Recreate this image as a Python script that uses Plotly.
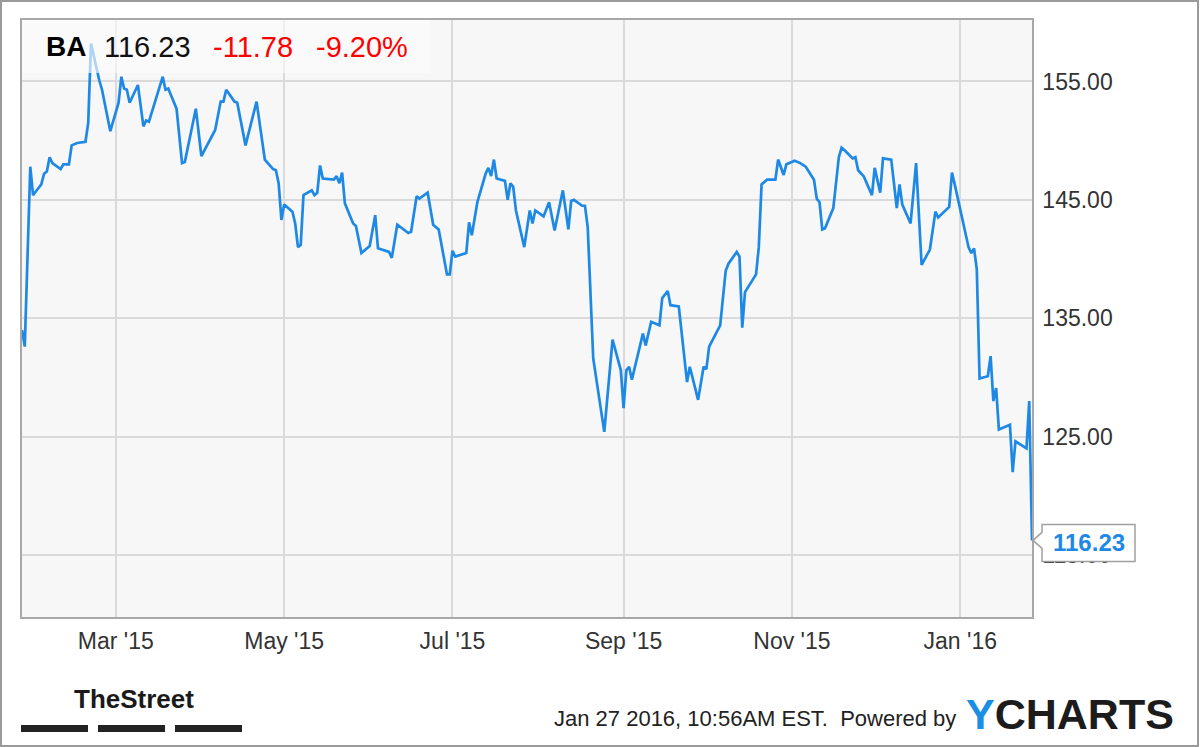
import plotly.graph_objects as go

# ---------------- data ----------------
ticker = "BA"
last_price = 116.23
change_abs = "-11.78"
change_pct = "-9.20%"
timestamp = "Jan 27 2016, 10:56AM EST.  Powered by"

dates = [
    "2015-01-26", "2015-01-27", "2015-01-29", "2015-01-30", "2015-01-31",
    "2015-02-02", "2015-02-03", "2015-02-04", "2015-02-05", "2015-02-06",
    "2015-02-09", "2015-02-10", "2015-02-12", "2015-02-13", "2015-02-15",
    "2015-02-18", "2015-02-19", "2015-02-20", "2015-02-23", "2015-02-24",
    "2015-02-27", "2015-03-02", "2015-03-03", "2015-03-04", "2015-03-05",
    "2015-03-06", "2015-03-09", "2015-03-11", "2015-03-12", "2015-03-13",
    "2015-03-18", "2015-03-19", "2015-03-20", "2015-03-23", "2015-03-25",
    "2015-03-26", "2015-03-30", "2015-04-01", "2015-04-06", "2015-04-08",
    "2015-04-09", "2015-04-10", "2015-04-13", "2015-04-14", "2015-04-17",
    "2015-04-21", "2015-04-24", "2015-04-27", "2015-04-28", "2015-04-29",
    "2015-04-30", "2015-05-01", "2015-05-04", "2015-05-05", "2015-05-06",
    "2015-05-07", "2015-05-08", "2015-05-11", "2015-05-12", "2015-05-13",
    "2015-05-14", "2015-05-15", "2015-05-19", "2015-05-20", "2015-05-21",
    "2015-05-22", "2015-05-23", "2015-05-26", "2015-05-27", "2015-05-29",
    "2015-06-01", "2015-06-03", "2015-06-04", "2015-06-08", "2015-06-09",
    "2015-06-11", "2015-06-15", "2015-06-16", "2015-06-18", "2015-06-19",
    "2015-06-22", "2015-06-24", "2015-06-26", "2015-06-29", "2015-06-30",
    "2015-07-01", "2015-07-02", "2015-07-06", "2015-07-07", "2015-07-08",
    "2015-07-10", "2015-07-13", "2015-07-14", "2015-07-15", "2015-07-16",
    "2015-07-17", "2015-07-20", "2015-07-21", "2015-07-22", "2015-07-23",
    "2015-07-24", "2015-07-27", "2015-07-29", "2015-07-30", "2015-07-31",
    "2015-08-03", "2015-08-05", "2015-08-07", "2015-08-10", "2015-08-12",
    "2015-08-13", "2015-08-14", "2015-08-17", "2015-08-18", "2015-08-19",
    "2015-08-21", "2015-08-25", "2015-08-28", "2015-08-31", "2015-09-01",
    "2015-09-02", "2015-09-03", "2015-09-04", "2015-09-08", "2015-09-09",
    "2015-09-11", "2015-09-14", "2015-09-15", "2015-09-17", "2015-09-18",
    "2015-09-21", "2015-09-24", "2015-09-25", "2015-09-28", "2015-09-30",
    "2015-10-01", "2015-10-02", "2015-10-06", "2015-10-08", "2015-10-09",
    "2015-10-12", "2015-10-13", "2015-10-14", "2015-10-15", "2015-10-19",
    "2015-10-20", "2015-10-21", "2015-10-23", "2015-10-26", "2015-10-27",
    "2015-10-29", "2015-10-30", "2015-11-02", "2015-11-04", "2015-11-06",
    "2015-11-09", "2015-11-10", "2015-11-11", "2015-11-12", "2015-11-13",
    "2015-11-16", "2015-11-18", "2015-11-19", "2015-11-20", "2015-11-23",
    "2015-11-24", "2015-11-25", "2015-11-27", "2015-11-30", "2015-12-01",
    "2015-12-03", "2015-12-04", "2015-12-07", "2015-12-09", "2015-12-10",
    "2015-12-11", "2015-12-14", "2015-12-16", "2015-12-18", "2015-12-21",
    "2015-12-23", "2015-12-24", "2015-12-28", "2015-12-29", "2015-12-30",
    "2016-01-04", "2016-01-05", "2016-01-06", "2016-01-07", "2016-01-08",
    "2016-01-11", "2016-01-12", "2016-01-13", "2016-01-14", "2016-01-15",
    "2016-01-19", "2016-01-20", "2016-01-21", "2016-01-25", "2016-01-26",
    "2016-01-27",
]

prices = [
    134.0, 132.6, 147.8, 145.4, 145.7,
    146.3, 147.2, 147.4, 148.6, 148.1,
    147.6, 148.0, 148.0, 149.6, 149.8,
    149.9, 151.5, 158.2, 155.1, 154.3,
    150.8, 153.2, 155.4, 154.4, 154.3,
    153.2, 154.7, 151.2, 151.7, 151.6,
    155.4, 154.3, 154.4, 152.7, 148.1,
    148.2, 152.7, 148.7, 150.9, 153.3,
    153.3, 154.3, 153.3, 153.2, 149.6,
    153.3, 148.4, 147.6, 147.5, 146.4,
    143.3, 144.6, 144.0, 143.0, 141.0,
    141.2, 145.4, 145.8, 145.4, 145.6,
    147.9, 146.8, 146.7, 147.0, 146.4,
    147.3, 144.7, 143.0, 142.8, 140.5,
    141.1, 143.7, 140.9, 140.6, 140.1,
    142.9, 142.2, 142.3, 145.3, 145.1,
    145.6, 142.9, 142.5, 138.7, 138.7,
    140.7, 140.2, 140.5, 143.1, 142.0,
    144.8, 147.2, 147.7, 147.0, 148.4,
    146.8, 146.6, 145.0, 146.4, 146.1,
    144.1, 141.0, 144.1, 143.0, 144.1,
    143.6, 144.8, 142.4, 145.8, 142.5,
    144.9, 145.0, 144.5, 144.5, 142.7,
    131.6, 125.4, 133.2, 130.6, 127.4,
    130.6, 130.9, 129.8, 133.7, 132.7,
    134.7, 134.4, 136.7, 137.3, 136.1,
    136.0, 129.6, 130.9, 128.1, 130.9,
    130.7, 132.6, 134.4, 139.0, 139.6,
    140.6, 140.2, 134.2, 137.2, 138.7,
    141.0, 146.3, 146.7, 146.7, 148.4,
    147.1, 148.0, 148.3, 148.1, 147.8,
    146.7, 145.1, 144.8, 142.5, 142.6,
    144.3, 148.6, 149.4, 149.2, 148.5,
    148.6, 147.5, 147.0, 145.4, 147.7,
    145.6, 148.5, 148.4, 144.3, 146.3,
    144.6, 143.0, 148.1, 139.5, 140.8,
    144.0, 143.5, 144.4, 147.3, 146.3,
    141.0, 140.5, 140.9, 139.1, 129.9,
    130.1, 131.8, 128.0, 129.1, 125.6,
    126.0, 122.0, 124.6, 124.0, 128.0,
    116.23,
]

y_tick_values = [115, 125, 135, 145, 155]
x_tick_dates = ["2015-03-01", "2015-05-01", "2015-07-01",
                "2015-09-01", "2015-11-01", "2016-01-01"]
x_tick_labels = ["Mar '15", "May '15", "Jul '15", "Sep '15", "Nov '15", "Jan '16"]

# ---------------- styling / layout constants ----------------
W, H = 1200, 747
PL, PR, PT, PB = 22, 1032, 20, 617          # plot area in pixels
Y_MIN, Y_MAX = 109.76, 160.19
LINE_BLUE = "#1e88e5"
FONT = "Liberation Sans, Arial, sans-serif"


def px(x):
    return (x - PL) / (PR - PL)


def py(y):
    return (PB - y) / (PB - PT)


fig = go.Figure()
fig.add_trace(go.Scatter(
    x=dates, y=prices, mode="lines",
    line=dict(color=LINE_BLUE, width=2.7),
    hoverinfo="x+y", showlegend=False,
))

fig.update_layout(
    width=W, height=H,
    margin=dict(l=PL, r=W - PR, t=PT, b=H - PB),
    paper_bgcolor="white",
    plot_bgcolor="#f7f7f7",
    font=dict(family=FONT, color="#333333"),
    showlegend=False,
)

fig.update_xaxes(
    type="date",
    range=[dates[0], dates[-1]],
    tickvals=x_tick_dates, ticktext=x_tick_labels,
    showgrid=True, gridcolor="#dadada", gridwidth=1.5,
    ticks="outside", ticklen=3, tickcolor="rgba(0,0,0,0)",
    tickfont=dict(size=23, color="#333333", family=FONT),
    showline=True, mirror=True, linecolor="#a8a8a8", linewidth=1.5,
    zeroline=False,
)
fig.update_yaxes(
    side="right",
    range=[Y_MIN, Y_MAX],
    tickvals=y_tick_values, tickformat=".2f",
    showgrid=True, gridcolor="#dadada", gridwidth=1.5,
    ticks="outside", ticklen=4, tickcolor="rgba(0,0,0,0)",
    tickfont=dict(size=23, color="#333333", family=FONT),
    showline=True, mirror=True, linecolor="#a8a8a8", linewidth=1.5,
    zeroline=False,
)

shapes = []
# outer frame of the whole image
shapes.append(dict(type="rect", xref="paper", yref="paper",
                   x0=px(1), x1=px(1198), y0=py(746), y1=py(1),
                   line=dict(color="#9a9a9a", width=2), fillcolor="rgba(0,0,0,0)",
                   layer="above"))
# translucent header box
shapes.append(dict(type="rect", xref="paper", yref="paper",
                   x0=px(PL), x1=px(430), y0=py(73), y1=py(PT),
                   line=dict(width=0), fillcolor="rgba(252,252,252,0.65)",
                   layer="above"))
# last-price callout with notch
last_y_px = PT + (Y_MAX - prices[-1]) / (Y_MAX - Y_MIN) * (PB - PT)
bx0, bx1 = 1042, 1135
by0, by1 = last_y_px - 16, last_y_px + 21
path = (f"M {px(PR + 1)} {py(last_y_px)} "
        f"L {px(bx0)} {py(last_y_px - 8)} L {px(bx0)} {py(by0)} "
        f"L {px(bx1)} {py(by0)} L {px(bx1)} {py(by1)} "
        f"L {px(bx0)} {py(by1)} L {px(bx0)} {py(last_y_px + 8)} Z")
shapes.append(dict(type="path", xref="paper", yref="paper", path=path,
                   line=dict(color="#a0a0a0", width=1.5), fillcolor="white",
                   layer="above"))
# TheStreet bars
for x0, x1 in [(21, 88), (98, 165), (175, 242)]:
    shapes.append(dict(type="rect", xref="paper", yref="paper",
                       x0=px(x0), x1=px(x1), y0=py(732), y1=py(725),
                       line=dict(width=0), fillcolor="#222222", layer="above"))
fig.update_layout(shapes=shapes)

ann = []
header_y = py(47)
ann.append(dict(text=f"<b>{ticker}</b>", x=px(44), y=header_y, xanchor="left",
                yanchor="middle", font=dict(size=28, color="#000000", family=FONT)))
ann.append(dict(text=f"{last_price:.2f}", x=px(102), y=header_y, xanchor="left",
                yanchor="middle", font=dict(size=29, color="#111111", family=FONT)))
ann.append(dict(text=change_abs, x=px(211), y=header_y, xanchor="left",
                yanchor="middle", font=dict(size=29, color="#ff0000", family=FONT)))
ann.append(dict(text=change_pct, x=px(314), y=header_y, xanchor="left",
                yanchor="middle", font=dict(size=29, color="#ff0000", family=FONT)))
# callout text
ann.append(dict(text=f"<b>{prices[-1]:.2f}</b>", x=px((bx0 + bx1) / 2),
                y=py((by0 + by1) / 2), xanchor="center", yanchor="middle",
                font=dict(size=24, color=LINE_BLUE, family=FONT)))
# footer
ann.append(dict(text=timestamp, x=px(958), y=py(718), xanchor="right",
                yanchor="middle", font=dict(size=22, color="#222222", family=FONT)))
ann.append(dict(text="<b><span style='color:#1a8fe3'>Y</span>CHARTS</b>",
                x=px(964), y=py(714), xanchor="left", yanchor="middle",
                font=dict(size=43, color="#1c1c1c", family=FONT)))
ann.append(dict(text="<b>TheStreet</b>", x=px(134), y=py(699), xanchor="center",
                yanchor="middle",
                font=dict(size=26, color="#1a1a1a", family=FONT)))
for a in ann:
    a.update(xref="paper", yref="paper", showarrow=False)
fig.update_layout(annotations=ann)

fig.write_html("out.html", config={"displayModeBar": False},
               post_script="document.body.style.margin='0';")
